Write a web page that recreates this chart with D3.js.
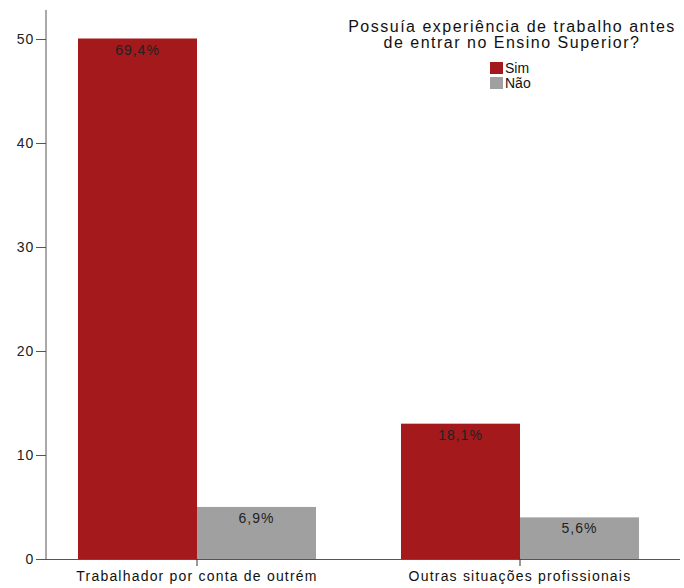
<!DOCTYPE html>
<html>
<head>
<meta charset="utf-8">
<script src="https://cdn.jsdelivr.net/npm/d3@7"></script>
<style>
  html, body { margin: 0; padding: 0; background: #fff; }
  svg { display: block; font-family: "Liberation Sans", Arial, sans-serif; }
</style>
</head>
<body>
<svg id="chart" width="684" height="588"></svg>
<script>
// Situação profissional vs. experiência de trabalho anterior
const categories = ["Trabalhador por conta de outrém", "Outras situações profissionais"];
const seriesNames = ["Sim", "Não"];
const simCounts = [50, 13];
const naoCounts = [5, 4];
const simLabels = ["69,4%", "18,1%"];
const naoLabels = ["6,9%", "5,6%"];
const yTicks = [0, 10, 20, 30, 40, 50];
const legendTitle = ["Possuía experiência de trabalho antes", "de entrar no Ensino Superior?"];

const colors = { "Sim": "#a3191c", "Não": "#a0a0a0" };

const svg = d3.select("#chart");
const axisX = 46, axisRight = 680, baseY = 559;

const y = d3.scaleLinear().domain([0, 50]).range([baseY, 38.5]);
const x0 = d3.scaleBand().domain(categories).range([35.5, 681.5]).paddingInner(0).paddingOuter(0);
const x1 = d3.scaleBand().domain(seriesNames).range([0, x0.bandwidth()]).paddingInner(0).paddingOuter(0.357);

const rows = categories.map((c, i) => ({
  cat: c,
  bars: [
    { s: "Sim", v: simCounts[i], label: simLabels[i] },
    { s: "Não", v: naoCounts[i], label: naoLabels[i] }
  ]
}));

// bars
const groups = svg.selectAll("g.grp").data(rows).join("g")
  .attr("class", "grp")
  .attr("transform", d => `translate(${x0(d.cat)},0)`);

groups.selectAll("rect").data(d => d.bars).join("rect")
  .attr("x", d => x1(d.s))
  .attr("y", d => y(d.v))
  .attr("width", x1.bandwidth())
  .attr("height", d => baseY - y(d.v))
  .attr("fill", d => colors[d.s]);

groups.selectAll("text.val").data(d => d.bars).join("text")
  .attr("class", "val")
  .attr("x", d => x1(d.s) + x1.bandwidth() / 2)
  .attr("y", d => y(d.v) + 16)
  .attr("text-anchor", "middle")
  .attr("font-size", 14)
  .attr("letter-spacing", 1)
  .attr("fill", "#222")
  .text(d => d.label);

// y axis
const yAxis = svg.append("g");
yAxis.append("line")
  .attr("x1", axisX).attr("x2", axisX)
  .attr("y1", 10).attr("y2", baseY)
  .attr("stroke", "#555").attr("stroke-width", 1);
yAxis.selectAll("line.tick").data(yTicks).join("line")
  .attr("class", "tick")
  .attr("x1", 36).attr("x2", axisX)
  .attr("y1", d => Math.round(y(d)) + 0.5).attr("y2", d => Math.round(y(d)) + 0.5)
  .attr("stroke", "#555");
yAxis.selectAll("text").data(yTicks).join("text")
  .attr("x", 34)
  .attr("y", d => y(d) + 5)
  .attr("text-anchor", "end")
  .attr("font-size", 14)
  .attr("letter-spacing", 0.8)
  .attr("fill", "#222")
  .text(d => d);

// x axis
const xAxis = svg.append("g");
xAxis.append("line")
  .attr("x1", axisX).attr("x2", axisRight)
  .attr("y1", baseY + 0.5).attr("y2", baseY + 0.5)
  .attr("stroke", "#555");
xAxis.selectAll("line.tick").data(categories).join("line")
  .attr("class", "tick")
  .attr("x1", d => x0(d) + x0.bandwidth() / 2).attr("x2", d => x0(d) + x0.bandwidth() / 2)
  .attr("y1", baseY).attr("y2", baseY + 7)
  .attr("stroke", "#333");
xAxis.selectAll("text").data(categories).join("text")
  .attr("x", d => x0(d) + x0.bandwidth() / 2)
  .attr("y", 581)
  .attr("text-anchor", "middle")
  .attr("font-size", 14)
  .attr("letter-spacing", 1.2)
  .attr("fill", "#111")
  .text(d => d);

// legend
const legend = svg.append("g");
legend.selectAll("text.title").data(legendTitle).join("text")
  .attr("class", "title")
  .attr("x", 512)
  .attr("y", (d, i) => 32 + i * 16)
  .attr("text-anchor", "middle")
  .attr("font-size", 16)
  .attr("letter-spacing", 1.5)
  .attr("fill", "#111")
  .text(d => d);
const items = legend.selectAll("g.item").data(seriesNames).join("g")
  .attr("class", "item")
  .attr("transform", (d, i) => `translate(490,${62 + i * 15})`);
items.append("rect").attr("width", 13).attr("height", 12).attr("fill", d => colors[d]);
items.append("text").attr("x", 15).attr("y", 11).attr("font-size", 14).attr("fill", "#111").text(d => d);
</script>
</body>
</html>
